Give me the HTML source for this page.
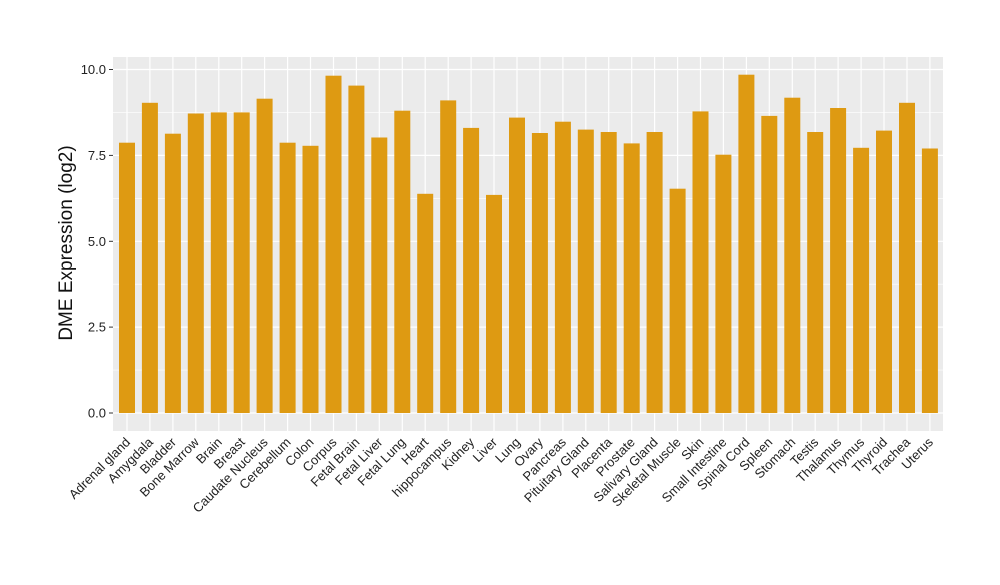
<!DOCTYPE html><html><head><style>body{margin:0;background:#fff}</style></head><body>
<svg width="1000" height="580" xmlns="http://www.w3.org/2000/svg" font-family="Liberation Sans, sans-serif">
<rect x="113" y="57" width="830" height="374" fill="#ebebeb"/>
<g stroke="#fff" stroke-width="0.6">
<line x1="113" x2="943" y1="370.1" y2="370.1"/><line x1="113" x2="943" y1="284.2" y2="284.2"/><line x1="113" x2="943" y1="198.3" y2="198.3"/><line x1="113" x2="943" y1="112.4" y2="112.4"/>
</g>
<g stroke="#fff" stroke-width="1.2">
<line x1="113" x2="943" y1="413" y2="413"/><line x1="113" x2="943" y1="327.1" y2="327.1"/><line x1="113" x2="943" y1="241.3" y2="241.3"/><line x1="113" x2="943" y1="155.4" y2="155.4"/><line x1="113" x2="943" y1="69.5" y2="69.5"/>
<line x1="127" x2="127" y1="57" y2="431"/><line x1="149.9" x2="149.9" y1="57" y2="431"/><line x1="172.9" x2="172.9" y1="57" y2="431"/><line x1="195.8" x2="195.8" y1="57" y2="431"/><line x1="218.8" x2="218.8" y1="57" y2="431"/><line x1="241.7" x2="241.7" y1="57" y2="431"/><line x1="264.6" x2="264.6" y1="57" y2="431"/><line x1="287.6" x2="287.6" y1="57" y2="431"/><line x1="310.5" x2="310.5" y1="57" y2="431"/><line x1="333.5" x2="333.5" y1="57" y2="431"/><line x1="356.4" x2="356.4" y1="57" y2="431"/><line x1="379.3" x2="379.3" y1="57" y2="431"/><line x1="402.3" x2="402.3" y1="57" y2="431"/><line x1="425.2" x2="425.2" y1="57" y2="431"/><line x1="448.2" x2="448.2" y1="57" y2="431"/><line x1="471.1" x2="471.1" y1="57" y2="431"/><line x1="494" x2="494" y1="57" y2="431"/><line x1="517" x2="517" y1="57" y2="431"/><line x1="539.9" x2="539.9" y1="57" y2="431"/><line x1="562.9" x2="562.9" y1="57" y2="431"/><line x1="585.8" x2="585.8" y1="57" y2="431"/><line x1="608.7" x2="608.7" y1="57" y2="431"/><line x1="631.7" x2="631.7" y1="57" y2="431"/><line x1="654.6" x2="654.6" y1="57" y2="431"/><line x1="677.6" x2="677.6" y1="57" y2="431"/><line x1="700.5" x2="700.5" y1="57" y2="431"/><line x1="723.4" x2="723.4" y1="57" y2="431"/><line x1="746.4" x2="746.4" y1="57" y2="431"/><line x1="769.3" x2="769.3" y1="57" y2="431"/><line x1="792.3" x2="792.3" y1="57" y2="431"/><line x1="815.2" x2="815.2" y1="57" y2="431"/><line x1="838.1" x2="838.1" y1="57" y2="431"/><line x1="861.1" x2="861.1" y1="57" y2="431"/><line x1="884" x2="884" y1="57" y2="431"/><line x1="907" x2="907" y1="57" y2="431"/><line x1="929.9" x2="929.9" y1="57" y2="431"/>
</g>
<g fill="#de9a12">
<rect x="119" y="142.7" width="16" height="270.3"/><rect x="141.9" y="102.8" width="16" height="310.2"/><rect x="164.9" y="133.7" width="16" height="279.3"/><rect x="187.8" y="113.5" width="16" height="299.5"/><rect x="210.8" y="112.4" width="16" height="300.6"/><rect x="233.7" y="112.4" width="16" height="300.6"/><rect x="256.6" y="98.7" width="16" height="314.3"/><rect x="279.6" y="142.7" width="16" height="270.3"/><rect x="302.5" y="145.8" width="16" height="267.2"/><rect x="325.5" y="75.7" width="16" height="337.3"/><rect x="348.4" y="85.6" width="16" height="327.4"/><rect x="371.3" y="137.5" width="16" height="275.5"/><rect x="394.3" y="110.7" width="16" height="302.3"/><rect x="417.2" y="193.8" width="16" height="219.2"/><rect x="440.2" y="100.4" width="16" height="312.6"/><rect x="463.1" y="127.9" width="16" height="285.1"/><rect x="486" y="194.9" width="16" height="218.1"/><rect x="509" y="117.6" width="16" height="295.4"/><rect x="531.9" y="133" width="16" height="280"/><rect x="554.9" y="121.7" width="16" height="291.3"/><rect x="577.8" y="129.6" width="16" height="283.4"/><rect x="600.7" y="132" width="16" height="281"/><rect x="623.7" y="143.4" width="16" height="269.6"/><rect x="646.6" y="132" width="16" height="281"/><rect x="669.6" y="188.7" width="16" height="224.3"/><rect x="692.5" y="111.4" width="16" height="301.6"/><rect x="715.4" y="154.7" width="16" height="258.3"/><rect x="738.4" y="74.7" width="16" height="338.3"/><rect x="761.3" y="115.9" width="16" height="297.1"/><rect x="784.3" y="97.7" width="16" height="315.3"/><rect x="807.2" y="132" width="16" height="281"/><rect x="830.1" y="108" width="16" height="305"/><rect x="853.1" y="147.8" width="16" height="265.2"/><rect x="876" y="130.6" width="16" height="282.4"/><rect x="899" y="102.8" width="16" height="310.2"/><rect x="921.9" y="148.5" width="16" height="264.5"/>
</g>
<g stroke="#333">
<line x1="109" x2="113" y1="413" y2="413"/><line x1="109" x2="113" y1="327.1" y2="327.1"/><line x1="109" x2="113" y1="241.3" y2="241.3"/><line x1="109" x2="113" y1="155.4" y2="155.4"/><line x1="109" x2="113" y1="69.5" y2="69.5"/>
</g>
<g font-size="13" text-anchor="end" fill="#222">
<text x="106" y="417.5">0.0</text><text x="106" y="331.6">2.5</text><text x="106" y="245.8">5.0</text><text x="106" y="159.9">7.5</text><text x="106" y="74">10.0</text>
</g>
<g font-size="13" text-anchor="end" fill="#222">
<text transform="translate(131,443) rotate(-45)">Adrenal gland</text>
<text transform="translate(153.9,443) rotate(-45)">Amygdala</text>
<text transform="translate(176.9,443) rotate(-45)">Bladder</text>
<text transform="translate(199.8,443) rotate(-45)">Bone Marrow</text>
<text transform="translate(222.8,443) rotate(-45)">Brain</text>
<text transform="translate(245.7,443) rotate(-45)">Breast</text>
<text transform="translate(268.6,443) rotate(-45)">Caudate Nucleus</text>
<text transform="translate(291.6,443) rotate(-45)">Cerebellum</text>
<text transform="translate(314.5,443) rotate(-45)">Colon</text>
<text transform="translate(337.5,443) rotate(-45)">Corpus</text>
<text transform="translate(360.4,443) rotate(-45)">Fetal Brain</text>
<text transform="translate(383.3,443) rotate(-45)">Fetal Liver</text>
<text transform="translate(406.3,443) rotate(-45)">Fetal Lung</text>
<text transform="translate(429.2,443) rotate(-45)">Heart</text>
<text transform="translate(452.2,443) rotate(-45)">hippocampus</text>
<text transform="translate(475.1,443) rotate(-45)">Kidney</text>
<text transform="translate(498,443) rotate(-45)">Liver</text>
<text transform="translate(521,443) rotate(-45)">Lung</text>
<text transform="translate(543.9,443) rotate(-45)">Ovary</text>
<text transform="translate(566.9,443) rotate(-45)">Pancreas</text>
<text transform="translate(589.8,443) rotate(-45)">Pituitary Gland</text>
<text transform="translate(612.7,443) rotate(-45)">Placenta</text>
<text transform="translate(635.7,443) rotate(-45)">Prostate</text>
<text transform="translate(658.6,443) rotate(-45)">Salivary Gland</text>
<text transform="translate(681.6,443) rotate(-45)">Skeletal Muscle</text>
<text transform="translate(704.5,443) rotate(-45)">Skin</text>
<text transform="translate(727.4,443) rotate(-45)">Small Intestine</text>
<text transform="translate(750.4,443) rotate(-45)">Spinal Cord</text>
<text transform="translate(773.3,443) rotate(-45)">Spleen</text>
<text transform="translate(796.3,443) rotate(-45)">Stomach</text>
<text transform="translate(819.2,443) rotate(-45)">Testis</text>
<text transform="translate(842.1,443) rotate(-45)">Thalamus</text>
<text transform="translate(865.1,443) rotate(-45)">Thymus</text>
<text transform="translate(888,443) rotate(-45)">Thyroid</text>
<text transform="translate(911,443) rotate(-45)">Trachea</text>
<text transform="translate(933.9,443) rotate(-45)">Uterus</text>
</g>
<text transform="translate(72,243) rotate(-90)" font-size="19" text-anchor="middle" fill="#111">DME Expression (log2)</text>
</svg></body></html>
